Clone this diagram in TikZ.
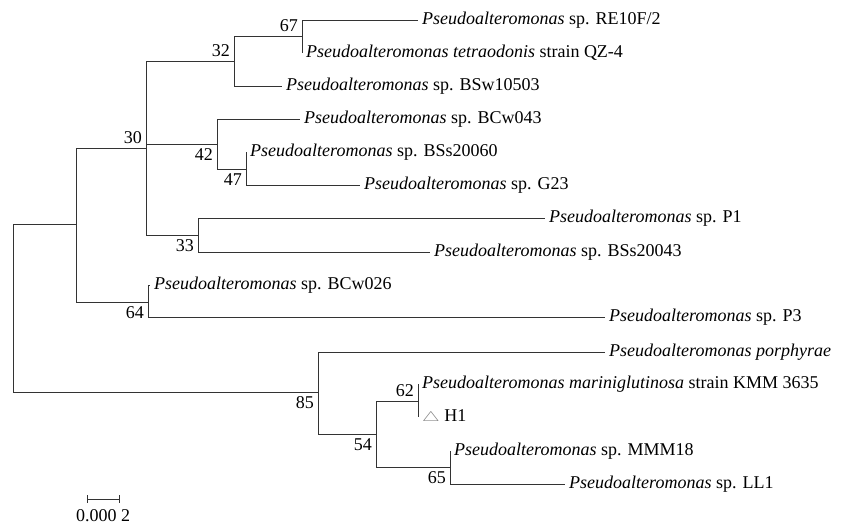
\documentclass[tikz,border=0pt]{standalone}
\usepackage{fontspec}
\setmainfont{Liberation Serif}
\usepackage{tikz}
\usetikzlibrary{positioning,calc}
\tikzstyle{leaf} = [anchor=west, inner xsep=4pt, inner ysep=0pt, text height=12pt, text depth=4pt, font=\fontsize{18}{20}\selectfont]
\tikzstyle{boot} = [inner sep=4pt, font=\fontsize{18}{20}\selectfont]
\tikzstyle{branch} = [draw, line width=0.9pt, color=black!80]
\newcommand{\pa}{\textit{Pseudoalteromonas}}

\begin{document}
\begin{tikzpicture}[x=1pt, y=-1pt]
    \useasboundingbox (0,0) rectangle (844,530);

    % inner nodes of the tree
    \coordinate (root) at (13,308);
    \coordinate (nA) at (76,224);
    \coordinate (n30) at (146,148);
    \coordinate (n32) at (234,61);
    \coordinate (n67) at (302,36);
    \coordinate (n42) at (217,144);
    \coordinate (n47) at (246,169);
    \coordinate (n33) at (198,235);
    \coordinate (n64) at (148,302);
    \coordinate (n85) at (318,392);
    \coordinate (n54) at (376,434);
    \coordinate (n62) at (418,401);
    \coordinate (n65) at (450,467);

    % leaves
    \node [leaf] (l1) at (418,20) {\pa\ sp. RE10F/2};
    \node [leaf] (l2) at (302,53) {\pa\ \textit{tetraodonis} strain QZ-4};
    \node [leaf] (l3) at (282,86) {\pa\ sp. BSw10503};
    \node [leaf] (l4) at (300,119) {\pa\ sp. BCw043};
    \node [leaf] (l5) at (246,152) {\pa\ sp. BSs20060};
    \node [leaf] (l6) at (360,185) {\pa\ sp. G23};
    \node [leaf] (l7) at (545,218) {\pa\ sp. P1};
    \node [leaf] (l8) at (430,252) {\pa\ sp. BSs20043};
    \node [leaf] (l9) at (150,285) {\pa\ sp. BCw026};
    \node [leaf] (l10) at (605,317) {\pa\ sp. P3};
    \node [leaf] (l11) at (605,352) {\pa\ \textit{porphyrae}};
    \node [leaf] (l12) at (418,384) {\pa\ \textit{mariniglutinosa} strain KMM 3635};
    \node [leaf] (l13) at (418,417) {\textcolor{gray}{\scalebox{1.15}[0.8]{$\triangle$}} H1};
    \node [leaf] (l14) at (450,451) {\pa\ sp. MMM18};
    \node [leaf] (l15) at (565,484) {\pa\ sp. LL1};

    % branches
    \draw [branch] (root) |- (nA);
    \draw [branch] (root) |- (n85);
    \draw [branch] (nA) |- (n30);
    \draw [branch] (nA) |- (n64);
    \draw [branch] (n30) |- (n32);
    \draw [branch] (n30) |- (n42);
    \draw [branch] (n30) |- (n33);
    \draw [branch] (n32) |- (n67);
    \draw [branch] (n32) |- (l3.west);
    \draw [branch] (n67) |- (l1.west);
    \draw [branch] (n67) |- (l2.west);
    \draw [branch] (n42) |- (l4.west);
    \draw [branch] (n42) |- (n47);
    \draw [branch] (n47) |- (l5.west);
    \draw [branch] (n47) |- (l6.west);
    \draw [branch] (n33) |- (l7.west);
    \draw [branch] (n33) |- (l8.west);
    \draw [branch] (n64) |- (l9.west);
    \draw [branch] (n64) |- (l10.west);
    \draw [branch] (n85) |- (l11.west);
    \draw [branch] (n85) |- (n54);
    \draw [branch] (n54) |- (n62);
    \draw [branch] (n54) |- (n65);
    \draw [branch] (n62) |- (l12.west);
    \draw [branch] (n62) |- (l13.west);
    \draw [branch] (n65) |- (l14.west);
    \draw [branch] (n65) |- (l15.west);

    % bootstrap values
    \node [boot, anchor=south east] (b67) at (n67) {67};
    \node [boot, anchor=south east] (b32) at (n32) {32};
    \node [boot, anchor=south east] (b30) at (n30) {30};
    \node [boot, anchor=north east] (b42) at (n42) {42};
    \node [boot, anchor=north east] (b47) at (n47) {47};
    \node [boot, anchor=north east] (b33) at (n33) {33};
    \node [boot, anchor=north east] (b64) at (n64) {64};
    \node [boot, anchor=north east] (b85) at (n85) {85};
    \node [boot, anchor=north east] (b54) at (n54) {54};
    \node [boot, anchor=south east] (b62) at (n62) {62};
    \node [boot, anchor=north east] (b65) at (n65) {65};

    % scale bar
    \coordinate (sb1) at (87,499);
    \coordinate (sb2) at (119,499);
    \draw [branch] (sb1) -- (sb2);
    \draw [branch] ($(sb1)+(0,-4)$) -- ($(sb1)+(0,4)$);
    \draw [branch] ($(sb2)+(0,-4)$) -- ($(sb2)+(0,4)$);
    \node [boot, anchor=north, inner sep=2pt] (sbl) at ($(sb1)!0.5!(sb2)+(0,8)$) {0.000 2};
\end{tikzpicture}
\end{document}
